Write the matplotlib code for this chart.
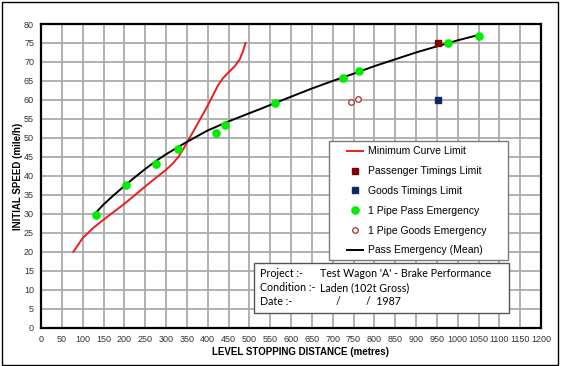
import matplotlib
matplotlib.use("Agg")
import matplotlib.pyplot as plt
from matplotlib.patches import Rectangle
from matplotlib.lines import Line2D

# ---------------- data ----------------
curve_dist = [77.7, 100, 125.5, 149.5, 173.4, 199.7, 225, 250, 277, 299, 316.9, 331,
              342.4, 356.7, 372.7, 399, 412.5, 424.6, 436.6, 449.3, 464.4, 476.4, 484.4, 490.8]
curve_speed = [20, 23.6, 26.3, 28.4, 30.4, 32.6, 34.9, 37.2, 39.6, 41.5, 43.3, 45.2,
               47.2, 50, 53.1, 58.3, 61.2, 63.8, 65.7, 67.2, 68.8, 70.6, 72.7, 75]

pass_timing_dist = [952]
pass_timing_speed = [75]

goods_timing_dist = [952]
goods_timing_speed = [60]

pass_emerg_dist = [133, 203, 275, 329, 421, 441, 562, 725, 762, 976, 1051]
pass_emerg_speed = [29.7, 37.5, 43.2, 47.0, 51.3, 53.5, 59.2, 65.9, 67.5, 75.0, 76.8]

goods_emerg_dist = [744, 760]
goods_emerg_speed = [59.5, 60.3]

mean_dist = [133.5, 149.5, 173.4, 199.7, 225, 250, 277, 299, 324.8, 349.5, 399, 449.3,
             500, 526, 562, 606, 650, 700, 750, 800, 850, 900, 950, 1000, 1050]
mean_speed = [30.5, 32.4, 34.8, 37.3, 39.6, 41.8, 44.0, 45.6, 47.3, 48.9, 51.9, 54.3,
              56.5, 57.6, 59.2, 61.1, 63.0, 65.0, 66.9, 68.9, 70.7, 72.5, 74.1, 75.7, 77.1]

x_ticks = list(range(0, 1201, 50))
y_ticks = list(range(0, 81, 5))

legend_labels = ["Minimum Curve Limit", "Passenger Timings Limit", "Goods Timings Limit",
                 "1 Pipe Pass Emergency", "1 Pipe Goods Emergency", "Pass Emergency (Mean)"]
info_keys = ["Project :-", "Condition :-", "Date :-"]
info_vals = ["Test Wagon 'A' - Brake Performance", "Laden (102t Gross)", ""]

# ---------------- figure ----------------
W, H = 566, 366
fig = plt.figure(figsize=(W / 100, H / 100), dpi=100)
AX_L, AX_R, AX_T, AX_B = 41, 541, 24, 327.7
ax = fig.add_axes([AX_L / W, (H - AX_B) / H, (AX_R - AX_L) / W, (AX_B - AX_T) / H])

def axx(px):
    return (px - AX_L) / (AX_R - AX_L)

def axy(py):
    return (AX_B - py) / (AX_B - AX_T)

# outer border
fig.patches.append(Rectangle((1.5 / W, 1.5 / H), (558 - 1.5) / W, (H - 3) / H,
                             transform=fig.transFigure, fill=False,
                             edgecolor="black", lw=1.0))

ax.set_xlim(0, 1200)
ax.set_ylim(0, 80)
ax.set_xticks(x_ticks)
ax.set_yticks(y_ticks)
ax.grid(True, color="#ababab", lw=1.3, zorder=0)
ax.set_axisbelow(True)
ax.tick_params(length=0, labelsize=6.5, labelcolor="#333333", pad=5)
for s in ax.spines.values():
    s.set_linewidth(1.6)
    s.set_color("black")

ax.plot(curve_dist, curve_speed, color="#ee1c1c", lw=1.4, zorder=3)
ax.plot(mean_dist, mean_speed, color="black", lw=1.4, zorder=3)
ax.plot(pass_emerg_dist, pass_emerg_speed, ls="none", marker="o", ms=5.2,
        color="#00ee00", mec="#00ee00", zorder=4)
ax.plot(goods_emerg_dist, goods_emerg_speed, ls="none", marker="o", ms=4,
        mfc="white", mec="#a0302a", mew=0.9, zorder=4)
ax.plot(pass_timing_dist, pass_timing_speed, ls="none", marker="s", ms=5,
        color="#7f0000", zorder=4)
ax.plot(goods_timing_dist, goods_timing_speed, ls="none", marker="s", ms=5,
        color="#0b2a60", zorder=4)

fig.text(18 / W, (H - 176) / H, "INITIAL SPEED (mile/h)", rotation=90,
         ha="center", va="center", fontsize=7, fontweight="bold",
         family="Liberation Sans")
fig.text(301 / W, (H - 352) / H, "LEVEL STOPPING DISTANCE (metres)",
         ha="center", va="center", fontsize=7, fontweight="bold",
         family="Liberation Sans")
for t in ax.get_xticklabels() + ax.get_yticklabels():
    t.set_family("Liberation Sans")

# legend box
ax.add_patch(Rectangle((axx(329), axy(260)), axx(508) - axx(329), axy(141) - axy(260),
                       transform=ax.transAxes, facecolor="white",
                       edgecolor="#7a7a7a", lw=1.0, zorder=5))
handles = [
    Line2D([], [], color="#ee1c1c", lw=1.4),
    Line2D([], [], ls="none", marker="s", ms=5, color="#7f0000"),
    Line2D([], [], ls="none", marker="s", ms=5, color="#0b2a60"),
    Line2D([], [], ls="none", marker="o", ms=5.2, color="#00ee00"),
    Line2D([], [], ls="none", marker="o", ms=4, mfc="white", mec="#a0302a", mew=0.9),
    Line2D([], [], color="black", lw=1.4),
]
leg = ax.legend(handles, legend_labels, loc="upper left",
                bbox_to_anchor=(axx(347), axy(146.5)), borderaxespad=0,
                borderpad=0, frameon=False, handlelength=1.55,
                handletextpad=0.45, labelspacing=0.94,
                prop={"family": "Liberation Sans", "size": 7.5})
leg.set_zorder(6)

# info box
ax.add_patch(Rectangle((axx(254), axy(313.3)), axx(509.3) - axx(254), axy(262.7) - axy(313.3),
                       transform=ax.transAxes, facecolor="white",
                       edgecolor="#555555", lw=1.0, zorder=5))
rows_y = [273.3, 287.7, 301.7]
for k, v, py in zip(info_keys, info_vals, rows_y):
    ax.text(axx(260), axy(py), k, transform=ax.transAxes, ha="left", va="center",
            fontsize=7.7, family="Lato", zorder=7)
    if v:
        ax.text(axx(320), axy(py), v, transform=ax.transAxes, ha="left", va="center",
                fontsize=7.7, family="Lato", zorder=7)
ax.text(axx(335.5), axy(rows_y[2]), "/", transform=ax.transAxes, ha="left", va="center",
        fontsize=7.7, family="Lato", zorder=7)
ax.text(axx(366), axy(rows_y[2]), "/  1987", transform=ax.transAxes, ha="left", va="center",
        fontsize=7.7, family="Lato", zorder=7)

fig.savefig("out.png", dpi=100)
